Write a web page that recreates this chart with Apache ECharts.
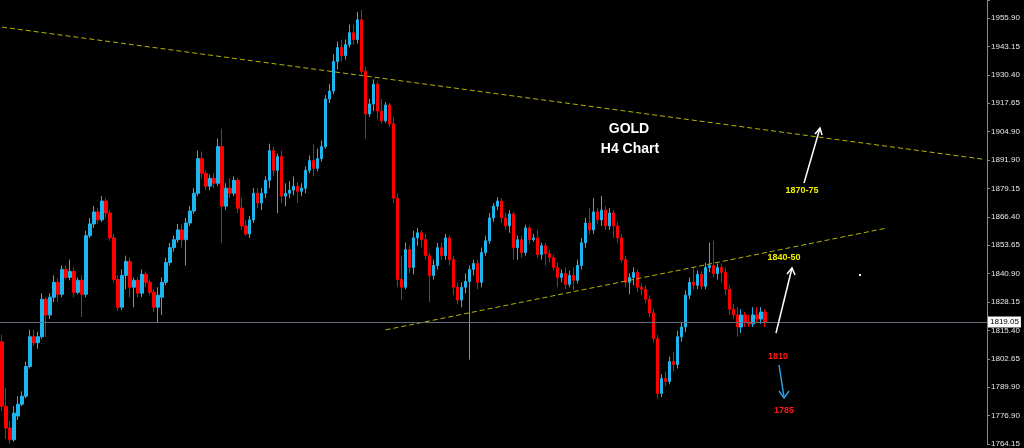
<!DOCTYPE html>
<html><head><meta charset="utf-8">
<script src="https://cdn.jsdelivr.net/npm/echarts@6/dist/echarts.min.js"></script>
<style>html,body{margin:0;padding:0;background:#000}#c{width:1024px;height:448px}</style>
</head><body><div id="c"></div>
<script>
const opens=[
1810.1,1781.1,1771.3,1766.0,1776.7,1782.0,1785.6,1799.0,1812.4,1809.7,
1812.4,1829.3,1822.2,1830.2,1836.9,1831.5,1842.7,1839.1,1841.8,1832.4,
1837.8,1831.5,1857.9,1863.2,1868.6,1865.0,1873.5,1868.1,1856.9,1838.2,
1825.7,1840.0,1846.3,1834.7,1837.8,1832.0,1840.5,1836.9,1832.4,1825.7,
1830.2,1836.9,1845.8,1852.5,1856.1,1860.5,1856.1,1863.6,1869.0,1877.0,
1892.6,1886.0,1880.2,1883.7,1881.5,1898.0,1871.2,1879.3,1877.0,1882.8,
1870.3,1862.3,1858.7,1865.0,1877.0,1872.6,1877.0,1882.8,1896.2,1887.3,
1893.5,1875.7,1877.0,1878.4,1880.2,1877.9,1879.3,1887.3,1891.7,1888.2,
1892.6,1898.0,1919.4,1923.0,1936.3,1942.6,1939.0,1943.9,1949.3,1946.2,
1955.1,1931.9,1912.7,1917.2,1926.1,1914.0,1909.6,1916.7,1908.3,1874.8,
1838.2,1834.7,1851.6,1843.6,1856.9,1859.2,1856.1,1848.9,1840.0,1844.5,
1852.5,1848.9,1856.9,1847.1,1834.7,1828.9,1834.7,1837.3,1842.7,1845.4,
1836.9,1850.3,1855.6,1865.9,1871.2,1873.5,1865.9,1862.3,1867.7,1852.5,
1856.1,1850.3,1861.4,1856.1,1856.9,1849.4,1853.4,1849.8,1848.0,1843.6,
1839.1,1840.9,1836.0,1840.0,1837.8,1844.5,1854.7,1863.6,1860.5,1868.6,
1865.0,1869.4,1862.3,1868.1,1862.3,1856.9,1847.1,1836.9,1839.1,1841.4,
1834.7,1833.8,1829.3,1823.1,1811.5,1786.9,1793.6,1792.3,1801.2,1799.9,
1812.4,1816.8,1831.1,1836.9,1835.6,1840.5,1835.1,1843.6,1844.5,1840.9,
1843.6,1841.4,1833.8,1824.8,1822.2,1816.8,1822.2,1819.0,1818.2,1822.2,
1820.4,1823.5];
const closes=[
1781.1,1771.3,1766.0,1778.0,1782.0,1785.6,1799.0,1812.4,1809.7,1812.4,
1829.3,1822.2,1830.2,1836.9,1831.5,1842.7,1839.1,1841.8,1832.4,1837.8,
1831.5,1857.9,1863.2,1868.6,1865.0,1873.5,1868.1,1856.9,1838.2,1825.7,
1840.0,1846.3,1834.7,1837.8,1832.0,1840.5,1836.9,1832.4,1825.7,1831.1,
1836.9,1845.8,1852.5,1856.1,1860.5,1856.1,1863.6,1869.0,1877.0,1892.6,
1886.0,1880.2,1883.7,1881.5,1898.0,1871.2,1879.3,1877.0,1882.8,1870.3,
1862.3,1858.7,1865.0,1877.0,1872.6,1877.0,1882.8,1896.2,1887.3,1893.5,
1875.7,1877.0,1878.4,1880.2,1877.9,1879.3,1887.3,1891.7,1888.2,1892.6,
1898.0,1919.4,1923.0,1936.3,1942.6,1939.0,1943.9,1949.3,1946.2,1955.1,
1931.9,1912.7,1917.2,1926.1,1914.0,1909.6,1916.7,1908.3,1874.8,1838.2,
1834.7,1851.6,1843.6,1856.9,1859.2,1856.1,1848.9,1840.0,1844.5,1852.5,
1848.9,1856.9,1847.1,1834.7,1828.9,1834.7,1837.3,1842.7,1845.4,1836.9,
1850.3,1855.6,1865.9,1871.2,1873.5,1865.9,1862.3,1867.7,1852.5,1856.1,
1850.3,1861.4,1856.1,1856.9,1849.4,1853.4,1849.8,1848.0,1843.6,1839.1,
1840.9,1836.0,1840.0,1837.8,1844.5,1854.7,1863.6,1860.5,1868.6,1865.0,
1869.4,1862.3,1868.1,1862.3,1856.9,1847.1,1836.9,1839.1,1841.4,1834.7,
1833.8,1829.3,1823.1,1811.5,1786.9,1793.6,1792.3,1801.2,1799.9,1812.4,
1816.8,1831.1,1836.9,1835.6,1840.5,1835.1,1843.6,1844.5,1840.9,1843.6,
1841.4,1833.8,1824.8,1822.2,1816.8,1822.2,1819.0,1818.2,1822.2,1820.4,
1823.5,1819.05];
const lows=[
1778.9,1766.4,1764.2,1765.1,1774.9,1781.1,1784.7,1798.1,1808.3,1807.0,
1811.5,1812.4,1820.4,1828.0,1828.0,1830.2,1838.2,1837.8,1830.2,1831.5,
1821.3,1830.2,1856.9,1861.4,1863.2,1864.1,1865.9,1855.6,1836.9,1824.0,
1824.4,1833.8,1830.2,1825.7,1830.2,1830.2,1834.7,1831.1,1823.5,1819.0,
1822.2,1835.6,1844.5,1850.7,1854.7,1852.5,1844.5,1862.3,1867.7,1875.7,
1883.7,1878.4,1878.4,1879.3,1880.2,1854.7,1869.4,1874.8,1875.7,1868.1,
1860.5,1857.9,1856.9,1863.6,1870.3,1869.4,1874.8,1879.3,1884.6,1868.1,
1872.6,1871.2,1874.8,1876.1,1872.6,1875.7,1877.0,1886.0,1884.6,1886.8,
1891.3,1897.1,1917.6,1921.6,1932.8,1936.3,1937.2,1942.6,1943.9,1944.4,
1930.5,1901.6,1911.4,1914.0,1910.5,1908.3,1908.7,1906.9,1872.6,1834.7,
1828.9,1833.8,1840.9,1840.5,1853.4,1852.5,1847.1,1828.0,1838.2,1842.7,
1847.1,1847.1,1844.5,1831.1,1827.1,1825.7,1832.0,1802.1,1840.0,1833.8,
1834.7,1848.9,1854.3,1864.1,1869.4,1863.6,1860.5,1859.2,1847.1,1847.1,
1848.0,1848.9,1854.3,1855.2,1848.0,1847.1,1844.5,1845.8,1842.2,1834.7,
1836.9,1833.8,1834.7,1833.3,1836.4,1842.7,1852.5,1858.7,1858.7,1863.2,
1862.3,1860.5,1860.5,1856.9,1854.7,1845.8,1834.7,1831.5,1835.6,1832.4,
1831.1,1827.5,1821.3,1809.7,1784.7,1785.2,1790.1,1791.0,1796.8,1798.1,
1810.1,1814.6,1829.3,1833.8,1833.8,1833.8,1833.8,1841.4,1839.1,1838.2,
1836.9,1831.1,1822.2,1820.4,1812.4,1814.1,1816.8,1816.8,1816.8,1818.6,
1818.2,1816.8];
const highs=[
1813.3,1789.2,1774.5,1781.1,1785.6,1787.8,1801.2,1815.5,1815.5,1814.6,
1832.0,1830.2,1832.0,1840.0,1838.7,1844.5,1844.5,1847.1,1843.6,1839.1,
1840.0,1860.1,1865.9,1871.2,1870.3,1875.7,1874.8,1869.4,1858.7,1840.0,
1842.7,1848.9,1848.0,1839.1,1839.1,1842.7,1841.8,1838.2,1833.8,1834.7,
1839.1,1848.0,1854.7,1857.9,1863.2,1863.2,1865.9,1871.2,1879.3,1896.2,
1895.8,1887.3,1885.5,1886.0,1901.6,1906.0,1881.5,1883.7,1884.6,1883.7,
1874.8,1865.0,1866.8,1879.3,1879.3,1879.3,1884.6,1899.3,1898.0,1894.9,
1896.2,1881.5,1882.4,1884.6,1881.9,1881.5,1889.1,1894.0,1899.3,1897.1,
1900.7,1921.2,1926.1,1939.5,1945.3,1946.2,1946.2,1952.9,1952.9,1958.6,
1959.5,1933.7,1919.4,1928.3,1927.4,1919.4,1918.1,1917.6,1911.4,1877.0,
1848.9,1854.7,1853.4,1860.1,1861.4,1860.5,1858.7,1850.3,1847.1,1854.7,
1854.7,1858.7,1857.9,1848.9,1836.9,1836.9,1840.9,1844.5,1847.1,1847.1,
1852.5,1857.9,1868.1,1872.6,1875.2,1874.8,1868.1,1869.4,1868.6,1857.9,
1857.9,1862.8,1862.3,1858.7,1860.5,1854.7,1854.7,1851.6,1849.4,1845.8,
1842.7,1843.6,1842.2,1843.6,1847.1,1856.9,1865.9,1870.3,1874.8,1870.3,
1875.7,1871.2,1870.3,1869.4,1864.1,1858.7,1848.9,1840.9,1843.6,1842.7,
1836.4,1835.6,1831.1,1824.8,1813.3,1795.4,1796.8,1803.4,1805.7,1815.0,
1819.0,1833.3,1839.1,1843.6,1842.2,1841.8,1845.8,1854.7,1855.6,1845.4,
1845.4,1843.6,1835.6,1827.1,1825.7,1824.8,1823.5,1822.2,1825.7,1825.7,
1825.7,1824.8];
const tickLabels=['1764.15','1776.90','1789.90','1802.65','1815.40','1828.15','1840.90','1853.65','1866.40','1879.15','1891.90','1904.90','1917.65','1930.40','1943.15','1955.90'];
const currentPrice=1819.05;
const upperTrend=[[0,1951.8],[246,1892.2]];
const lowerTrend=[[96,1815.5],[221,1861.2]];
const slotCount=247;
const categories=Array.from({length:slotCount},(_,i)=>String(i));
const ohlc=opens.map((o,i)=>[o,closes[i],lows[i],highs[i]]);
const axisMin=1764.114, axisMax=1964, tickStep=12.7857;

const chart=echarts.init(document.getElementById('c'),null,{renderer:'canvas'});
const trendStyle={color:'#b4b400',type:[5,3],width:1};
chart.setOption({
  backgroundColor:'#000000',
  animation:false,
  grid:{left:0,right:37,top:0,bottom:0},
  xAxis:{type:'category',data:categories,boundaryGap:true,show:false},
  yAxis:{type:'value',position:'right',min:axisMin,max:axisMax,interval:tickStep,
    axisLine:{show:true,lineStyle:{color:'#8a8a8a',width:1}},
    axisTick:{show:true,length:3,lineStyle:{color:'#8a8a8a'}},
    splitLine:{show:false},
    axisLabel:{color:'#e6e6e6',fontSize:8,fontFamily:'"Liberation Sans", Arial, sans-serif',margin:4,
      formatter:v=>{const k=Math.round((v-axisMin)/tickStep);return tickLabels[k]||'';}}},
  series:[{
    type:'candlestick',data:ohlc,barWidth:3,
    itemStyle:{color:'#1eb4ee',color0:'#ff0000',borderColor:'#1eb4ee',borderColor0:'#ff0000',borderWidth:1},
    markLine:{silent:true,symbol:'none',animation:false,label:{show:false},
      data:[
        [{coord:upperTrend[0],lineStyle:trendStyle},{coord:upperTrend[1]}],
        [{coord:lowerTrend[0],lineStyle:trendStyle},{coord:lowerTrend[1]}],
        {yAxis:currentPrice,lineStyle:{color:'#656c7c',type:'solid',width:1},
         label:{show:true,position:'end',distance:1,formatter:currentPrice.toFixed(2),
           backgroundColor:'#ffffff',color:'#000000',fontSize:8,padding:[2,2,1,2],
           fontFamily:'"Liberation Sans", Arial, sans-serif'}}
      ]}
  }],
  graphic:[
    {type:'text',x:629,y:129,z:10,style:{text:'GOLD',fill:'#ffffff',font:'bold 14px "Liberation Sans", Arial, sans-serif',align:'center',verticalAlign:'middle'}},
    {type:'text',x:630,y:149,z:10,style:{text:'H4 Chart',fill:'#ffffff',font:'bold 14px "Liberation Sans", Arial, sans-serif',align:'center',verticalAlign:'middle'}},
    {type:'polyline',z:10,shape:{points:[[804,183],[820,128]]},style:{stroke:'#ffffff',lineWidth:1.5,fill:null}},
    {type:'polyline',z:10,shape:{points:[[815,134],[820,128],[822,135]]},style:{stroke:'#ffffff',lineWidth:1.5,fill:null}},
    {type:'text',x:802,y:191,z:10,style:{text:'1870-75',fill:'#f0f000',font:'bold 9px "Liberation Sans", Arial, sans-serif',align:'center',verticalAlign:'middle'}},
    {type:'polyline',z:10,shape:{points:[[776,333],[792,268]]},style:{stroke:'#ffffff',lineWidth:1.5,fill:null}},
    {type:'polyline',z:10,shape:{points:[[787,274],[792,268],[795,275]]},style:{stroke:'#ffffff',lineWidth:1.5,fill:null}},
    {type:'text',x:784,y:258,z:10,style:{text:'1840-50',fill:'#f0f000',font:'bold 9px "Liberation Sans", Arial, sans-serif',align:'center',verticalAlign:'middle'}},
    {type:'text',x:778,y:357,z:10,style:{text:'1810',fill:'#ff1a1a',font:'bold 9px "Liberation Sans", Arial, sans-serif',align:'center',verticalAlign:'middle'}},
    {type:'polyline',z:10,shape:{points:[[779,365],[784,397]]},style:{stroke:'#2a9fe0',lineWidth:1.5,fill:null}},
    {type:'polyline',z:10,shape:{points:[[779,391],[784,398],[789,391]]},style:{stroke:'#2a9fe0',lineWidth:1.5,fill:null}},
    {type:'text',x:784,y:411,z:10,style:{text:'1785',fill:'#ff1a1a',font:'bold 9px "Liberation Sans", Arial, sans-serif',align:'center',verticalAlign:'middle'}},
    {type:'rect',z:10,shape:{x:859,y:274,width:2,height:2},style:{fill:'#ffffff'}}
  ]
});
</script></body></html>
